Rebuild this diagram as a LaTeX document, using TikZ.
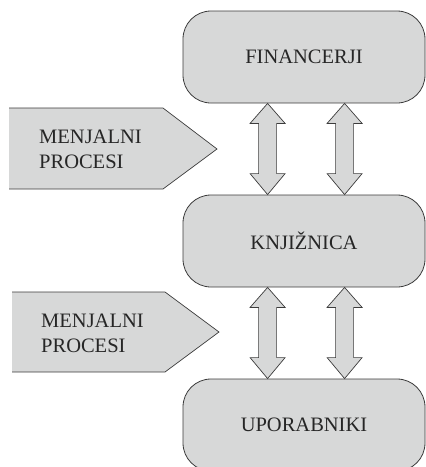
\documentclass[tikz,border=0pt]{standalone}
\usepackage{fontspec}
\setmainfont{Liberation Serif}
\usetikzlibrary{calc}
\definecolor{boxfill}{HTML}{D7D8D8}
\definecolor{boxline}{HTML}{3C3C3C}
\tikzset{
  entity/.style={draw=boxline, fill=boxfill, line width=0.8pt, rounded corners=28pt,
    minimum width=242pt, minimum height=92pt, inner sep=0pt,
    font=\fontsize{20.5}{25}\selectfont, text=black!85},
  dblarr/.style={draw=boxline, fill=boxfill, line width=0.7pt, line join=miter},
  proc/.style={fill=boxfill},
  procedge/.style={draw=boxline, line width=0.7pt},
  proclabel/.style={anchor=base west, inner sep=0pt, align=left,
    font=\fontsize{20.5}{25}\selectfont, text=black!85}
}
\newcommand\twoarrow[2]{%
  \path[dblarr] let \p1=(#1), \p2=(#2) in
    (\x1,\y1) -- (\x1+17.5pt,\y1-20pt) -- (\x1+9pt,\y1-20pt) -- (\x1+9pt,\y2+21pt)
    -- (\x1+17.5pt,\y2+21pt) -- (\x1,\y2) -- (\x1-17.5pt,\y2+21pt) -- (\x1-9pt,\y2+21pt)
    -- (\x1-9pt,\y1-20pt) -- (\x1-17.5pt,\y1-20pt) -- cycle;}
\begin{document}
\begin{tikzpicture}[x=1pt,y=-1pt]
\useasboundingbox (0,0) rectangle (426,467);
\node[entity] (fin) at (304,57) {FINANCERJI};
\node[entity] (knj) at (304,241) {KNJIŽNICA};
\node[entity] (upo) at (304,425) {UPORABNIKI};
% double arrows
\coordinate (a1t) at ($(fin.south west)+(85,0)$);
\coordinate (a1b) at ($(knj.north west)+(85,0)$);
\coordinate (a2t) at ($(fin.south west)+(162,0)$);
\coordinate (a2b) at ($(knj.north west)+(162,0)$);
\coordinate (a3t) at ($(knj.south west)+(85,0)$);
\coordinate (a3b) at ($(upo.north west)+(85,0)$);
\coordinate (a4t) at ($(knj.south west)+(162,0)$);
\coordinate (a4b) at ($(upo.north west)+(162,0)$);
\twoarrow{a1t}{a1b}
\twoarrow{a2t}{a2b}
\twoarrow{a3t}{a3b}
\twoarrow{a4t}{a4b}
% process arrows
\fill[proc] (9,108) -- (163,108) -- (217,149) -- (163,189) -- (9,189) -- cycle;
\draw[procedge] (9,108) -- (163,108) -- (217,149) -- (163,189) -- (9,189);
\node[proclabel] (p1) at (39,168) {MENJALNI\\PROCESI};
\fill[proc] (12,292) -- (165,292) -- (219,332) -- (165,372) -- (12,372) -- cycle;
\draw[procedge] (12,292) -- (165,292) -- (219,332) -- (165,372) -- (12,372);
\node[proclabel] (p2) at (41,352) {MENJALNI\\PROCESI};
\end{tikzpicture}
\end{document}
